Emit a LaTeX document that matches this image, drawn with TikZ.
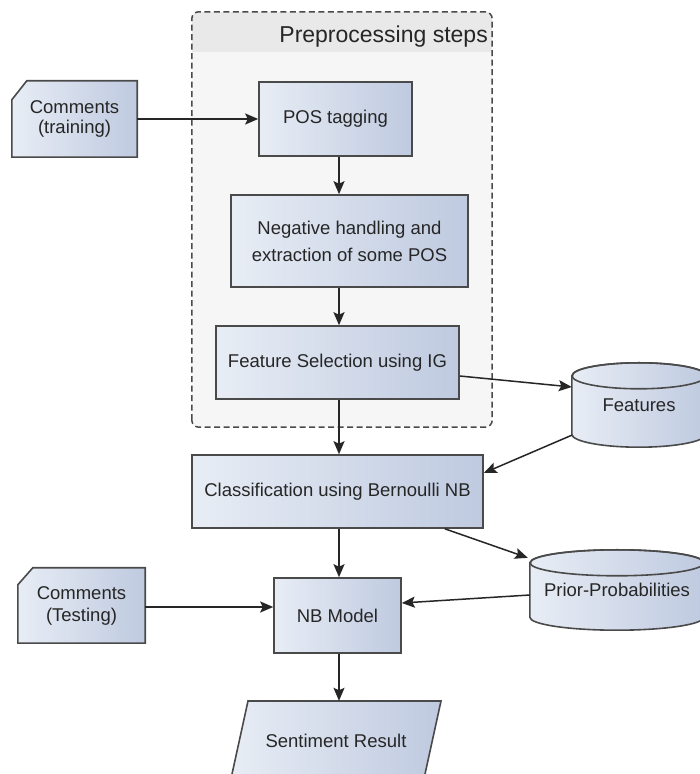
\documentclass[tikz,border=0pt]{standalone}
\usepackage{fontspec}
\setmainfont{Liberation Sans}
\usetikzlibrary{arrows.meta,calc,backgrounds}
\definecolor{bord}{HTML}{4A4A4A}
\definecolor{fillA}{HTML}{E8EDF5}
\definecolor{fillB}{HTML}{BFCAE0}
\definecolor{grpfill}{HTML}{F6F6F6}
\definecolor{grphead}{HTML}{E9E9E9}
\definecolor{txt}{HTML}{262626}
\begin{document}
\begin{tikzpicture}[x=1pt,y=1pt,
  every node/.style={font=\fontsize{18.5}{22}\selectfont, text=txt, align=center},
  shade/.style={left color=fillA, right color=fillB},
  box/.style={shade, draw=bord, line width=1.6pt, inner sep=0pt},
  shapeline/.style={shade, draw=bord, line width=1.6pt},
  plain/.style={inner sep=0pt},
  conn/.style={draw=black!85, line width=1.5pt, -{Stealth[length=13pt,width=11pt,inset=2.5pt]}}
]
\useasboundingbox (0,0) rectangle (700,774);

% group
\node[plain, minimum width=300pt, minimum height=415pt] (grp) at (342,554.5) {};
\node[plain, anchor=east, font=\fontsize{23}{26}\selectfont] (grptitle) at (488,737) {Preprocessing steps};

% rectangles
\node[box, minimum width=153pt, minimum height=74pt] (pos) at (335.5,655) {POS tagging};
\node[box, minimum width=237pt, minimum height=92pt, font=\fontsize{18.5}{27}\selectfont] (neg) at (349.5,533) {Negative handling and\\extraction of some POS};
\node[box, minimum width=243pt, minimum height=73pt] (feat) at (337.5,411.5) {Feature Selection using IG};
\node[box, minimum width=291pt, minimum height=73pt] (cls) at (337.5,282.5) {Classification using Bernoulli NB};
\node[box, minimum width=127pt, minimum height=75pt] (nb) at (337.5,158.5) {NB Model};

% chamfered inputs (text nodes)
\node[plain, minimum width=125pt, minimum height=76pt, font=\fontsize{18.5}{20}\selectfont] (ctr) at (74.5,655) {Comments\\(training)};
\node[plain, minimum width=127pt, minimum height=75pt, font=\fontsize{18.5}{22}\selectfont] (cte) at (81.5,168.5) {Comments\\(Testing)};

% cylinders (text nodes)
\node[plain, minimum width=134pt, minimum height=84pt] (fdb) at (639,369) {Features};
\node[plain, minimum width=174pt, minimum height=80pt] (pdb) at (617,184) {Prior-Probabilities};

% sentiment result (text node)
\node[plain, minimum width=190pt, minimum height=79pt] (sent) at (336,33.5) {Sentiment Result};

\begin{scope}[on background layer]
  \fill[white] (0,0) rectangle (700,774);
  % group box
  \begin{scope}
    \clip[rounded corners=7pt] (grp.south west) rectangle (grp.north east);
    \fill[grpfill] (grp.south west) rectangle (grp.north east);
    \fill[grphead] ([yshift=-40pt]grp.north west) rectangle (grp.north east);
  \end{scope}
  \draw[bord, line width=1.5pt, dash pattern=on 6pt off 3.5pt, rounded corners=7pt]
    (grp.south west) rectangle (grp.north east);
  % chamfered shapes
  \path[shapeline] ([yshift=-19pt]ctr.north west) -- ([xshift=15pt]ctr.north west) -- (ctr.north east)
     -- (ctr.south east) -- (ctr.south west) -- cycle;
  \path[shapeline] ([yshift=-17pt]cte.north west) -- ([xshift=15pt]cte.north west) -- (cte.north east)
     -- (cte.south east) -- (cte.south west) -- cycle;
  % cylinders
  \path[shapeline] ([yshift=-13pt]fdb.north west) -- ([yshift=13pt]fdb.south west)
     arc[start angle=180, end angle=360, x radius=67pt, y radius=13pt]
     -- ([yshift=-13pt]fdb.north east)
     arc[start angle=0, end angle=180, x radius=67pt, y radius=13pt] -- cycle;
  \draw[bord, line width=1.6pt] ([yshift=-13pt]fdb.north) ellipse[x radius=67pt, y radius=13pt];
  \path[shapeline] ([yshift=-13pt]pdb.north west) -- ([yshift=13pt]pdb.south west)
     arc[start angle=180, end angle=360, x radius=87pt, y radius=13pt]
     -- ([yshift=-13pt]pdb.north east)
     arc[start angle=0, end angle=180, x radius=87pt, y radius=13pt] -- cycle;
  \draw[bord, line width=1.6pt] ([yshift=-13pt]pdb.north) ellipse[x radius=87pt, y radius=13pt];
  % parallelogram
  \path[shapeline] ($(sent)+(-88,39.5)$) -- ($(sent)+(105,39.5)$) -- ($(sent)+(87.7,-39.5)$)
     -- ($(sent)+(-105.3,-39.5)$) -- cycle;
\end{scope}

% connectors
\coordinate (ax) at (339,0);
\draw[conn] (ctr.east) -- (pos.west |- ctr.east);
\draw[conn] (pos.south -| ax) -- (neg.north -| ax);
\draw[conn] (neg.south -| ax) -- (feat.north -| ax);
\draw[conn] (feat.south -| ax) -- (cls.north -| ax);
\draw[conn] (cls.south -| ax) -- (nb.north -| ax);
\draw[conn] (nb.south -| ax) -- (sent.north -| ax);
\coordinate (fdbin) at ($(fdb.west)+(0,18)$);
\draw[conn] ([yshift=-13.5pt]feat.east) -- (fdbin);
\coordinate (fdbout) at ($(fdb.south west)+(0,12)$);
\draw[conn] (fdbout) -- ([yshift=18.5pt]cls.east);
\coordinate (pdbin) at ($(pdb.north west)+(-2,-8)$);
\draw[conn] ([xshift=-39pt]cls.south east) -- (pdbin);
\coordinate (pdbout) at ($(pdb.west)+(0,-5)$);
\draw[conn] (pdbout) -- ([yshift=12.5pt]nb.east);
\coordinate (cteout) at ($(cte.east)+(0,-1.5)$);
\draw[conn] (cteout) -- (nb.west |- cteout);
\end{tikzpicture}
\end{document}
